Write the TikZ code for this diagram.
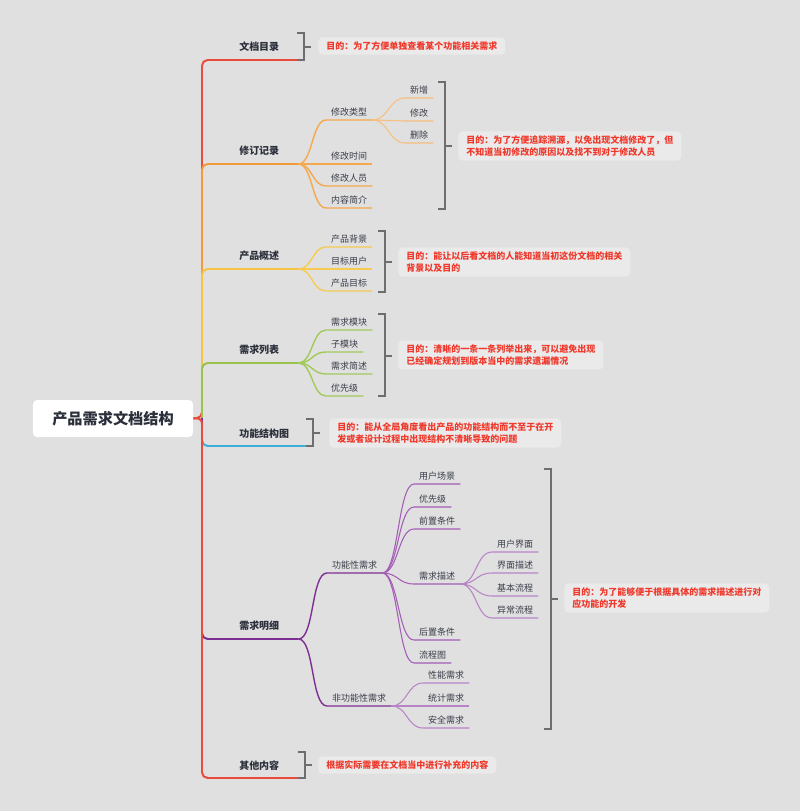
\documentclass[tikz,border=0pt]{standalone}
\usepackage{fontspec}
\setmainfont{Noto Sans CJK SC}
\usepackage{tikz}
\usetikzlibrary{positioning}
\definecolor{bg}{HTML}{E0E0E0}
\definecolor{notebg}{HTML}{EAEAEA}
\definecolor{ink}{HTML}{2B2F3A}
\definecolor{ink2}{HTML}{3A3D4A}
\definecolor{notered}{HTML}{F0382B}
\definecolor{bracegray}{HTML}{6E6E6E}
\definecolor{cred}{HTML}{E94B3C}
\definecolor{corange}{HTML}{F29B38}
\definecolor{corange2}{HTML}{F5A84E}
\definecolor{corange3}{HTML}{F7BE7E}
\definecolor{cyellow}{HTML}{F6C343}
\definecolor{cyellow2}{HTML}{F7CB52}
\definecolor{cgreen}{HTML}{98C24B}
\definecolor{cgreen2}{HTML}{A2C95C}
\definecolor{cblue}{HTML}{3BAFDA}
\definecolor{cpurple}{HTML}{7E2F94}
\definecolor{cpurple2}{HTML}{A35DB5}
\definecolor{cpurple3}{HTML}{B884C6}
\tikzset{
  root/.style={fill=white,rounded corners=3pt,minimum width=4cm,minimum height=0.925cm,
    font=\fontsize{10.8}{12}\selectfont\bfseries,text=ink},
  branch/.style={anchor=south west,inner xsep=13.5pt,inner ysep=5.5pt,
    font=\fontsize{7.1}{8}\selectfont\bfseries,text=ink},
  topic/.style={anchor=south west,inner xsep=3.5pt,inner ysep=2.6pt,
    font=\fontsize{6.4}{8}\selectfont,text=ink2},
  note/.style={anchor=west,fill=notebg,rounded corners=3pt,inner xsep=5.7pt,inner ysep=3pt,
    align=left,text=notered,font=\fontsize{6.4}{8.5}\selectfont\bfseries},
  brace/.style={draw=bracegray,line width=0.9pt},
  trunk/.style={line width=1.4pt,rounded corners=4pt},
  twig/.style={line width=1pt},
  leafline/.style={line width=0.75pt},
}
\begin{document}
\begin{tikzpicture}[x=0.025cm,y=-0.025cm]
      \fill[bg] (0,0) rectangle (800,811);
      \useasboundingbox (0,0) rectangle (800,811);

      \node[root] (root) at (113,418.5) {产品需求文档结构};
      \coordinate (hub) at (202,418);

      \node[branch] (mulu) at (220,60) {文档目录};
      \node[branch] (xiuding) at (220,164) {修订记录};
      \node[branch] (gaishu) at (220,269) {产品概述};
      \node[branch] (liebiao) at (220,363) {需求列表};
      \node[branch] (jiegou) at (220,446) {功能结构图};
      \node[branch] (mingxi) at (220,639) {需求明细};
      \node[branch] (qita) at (220,778) {其他内容};

      \draw[trunk,cred] (root.east) -- (hub) |- (mulu.south west) -- (mulu.south east);
      \draw[trunk,corange] (hub) |- (xiuding.south west) -- (xiuding.south east);
      \draw[trunk,cyellow] (hub) |- (gaishu.south west) -- (gaishu.south east);
      \draw[trunk,cgreen] (hub) |- (liebiao.south west) -- (liebiao.south east);
      \draw[trunk,cblue] (hub) |- (jiegou.south west) -- (jiegou.south east);
      \draw[trunk,cpurple] (hub) |- (mingxi.south west) -- (mingxi.south east);
      \draw[trunk,cred] (root.east) -- (hub) |- (qita.south west) -- (qita.south east);

      % 修订记录
      \node[topic] (leixing) at (326,120) {修改类型};
      \node[topic] (shijian) at (326,164) {修改时间};
      \node[topic] (renyuan) at (326,186) {修改人员};
      \node[topic] (jianjie) at (326,208) {内容简介};
      \node[topic] (xinzeng) at (405,98) {新增};
      \node[topic] (xiugai) at (405,121) {修改};
      \node[topic] (shanchu) at (405,143) {删除};
      \foreach \c in {leixing,shijian,renyuan,jianjie}
        \draw[twig,corange2] (xiuding.south east) .. controls +(14,0) and +(-14,0) .. (\c.south west) -- (\c.south east);
      \foreach \c in {xinzeng,xiugai,shanchu}
        \draw[leafline,corange3] (leixing.south east) .. controls +(16,0) and +(-16,0) .. (\c.south west) -- (\c.south east);

      % 产品概述
      \node[topic] (beijing) at (326,247) {产品背景};
      \node[topic] (yonghu) at (326,269) {目标用户};
      \node[topic] (mubiao) at (326,291) {产品目标};
      \foreach \c in {beijing,yonghu,mubiao}
        \draw[twig,cyellow2] (gaishu.south east) .. controls +(14,0) and +(-14,0) .. (\c.south west) -- (\c.south east);

      % 需求列表
      \node[topic] (mokuai) at (326,330) {需求模块};
      \node[topic] (zimokuai) at (326,352) {子模块};
      \node[topic] (jianshu) at (326,374) {需求简述};
      \node[topic] (youxian) at (326,396) {优先级};
      \foreach \c in {mokuai,zimokuai,jianshu,youxian}
        \draw[twig,cgreen2] (liebiao.south east) .. controls +(14,0) and +(-14,0) .. (\c.south west) -- (\c.south east);

      % 需求明细
      \node[topic] (gongneng) at (327,573) {功能性需求};
      \node[topic] (feigongneng) at (327,706) {非功能性需求};
      \node[topic] (changjing) at (414,484) {用户场景};
      \node[topic] (youxianji) at (414,507) {优先级};
      \node[topic] (qianzhi) at (414,529) {前置条件};
      \node[topic] (miaoshu) at (414,584) {需求描述};
      \node[topic] (houzhi) at (414,640) {后置条件};
      \node[topic] (liucheng) at (414,663) {流程图};
      \node[topic] (jiemian) at (492,552) {用户界面};
      \node[topic] (jmms) at (492,573) {界面描述};
      \node[topic] (jiben) at (492,596) {基本流程};
      \node[topic] (yichang) at (492,618) {异常流程};
      \node[topic] (xingneng) at (423,683) {性能需求};
      \node[topic] (tongji) at (423,706) {统计需求};
      \node[topic] (anquan) at (423,728) {安全需求};
      \foreach \c in {gongneng,feigongneng}
        \draw[twig,cpurple] (mingxi.south east) .. controls +(16,0) and +(-16,0) .. (\c.south west) -- (\c.south east);
      \foreach \c in {changjing,youxianji,qianzhi,miaoshu,houzhi,liucheng}
        \draw[leafline,cpurple2] (gongneng.south east) .. controls +(16,0) and +(-16,0) .. (\c.south west) -- (\c.south east);
      \foreach \c in {jiemian,jmms,jiben,yichang}
        \draw[leafline,cpurple3] (miaoshu.south east) .. controls +(16,0) and +(-16,0) .. (\c.south west) -- (\c.south east);
      \foreach \c in {xingneng,tongji,anquan}
        \draw[leafline,cpurple3] (feigongneng.south east) .. controls +(16,0) and +(-16,0) .. (\c.south west) -- (\c.south east);

      % brackets and notes
      \draw[brace] (297,33) -| (304,60) -- (297,60);
      \draw[brace] (304,47) -- (311,47);
      \node[note] (n1) at (318,46) {目的：为了方便单独查看某个功能相关需求};

      \draw[brace] (438,82) -| (445,209) -- (438,209);
      \draw[brace] (445,146) -- (452,146);
      \node[note] (n2) at (458,146) {目的：为了方便追踪溯源，以免出现文档修改了，但\\不知道当初修改的原因以及找不到对于修改人员};

      \draw[brace] (378,231) -| (385,292) -- (378,292);
      \draw[brace] (385,262) -- (392,262);
      \node[note] (n3) at (398,262) {目的：能让以后看文档的人能知道当初这份文档的相关\\背景以及目的};

      \draw[brace] (378,314) -| (385,396) -- (378,396);
      \draw[brace] (385,356) -- (392,356);
      \node[note] (n4) at (398,355) {目的：清晰的一条一条列举出来，可以避免出现\\已经确定规划到版本当中的需求遗漏情况};

      \draw[brace] (306,419) -| (313,446) -- (306,446);
      \draw[brace] (313,433) -- (320,433);
      \node[note] (n5) at (329,433) {目的：能从全局角度看出产品的功能结构而不至于在开\\发或者设计过程中出现结构不清晰导致的问题};

      \draw[brace] (544,469) -| (551,729) -- (544,729);
      \draw[brace] (551,599) -- (558,599);
      \node[note] (n6) at (564,598) {目的：为了能够便于根据具体的需求描述进行对\\应功能的开发};

      \draw[brace] (298,752) -| (305,778) -- (298,778);
      \draw[brace] (305,765) -- (312,765);
      \node[note] (n7) at (318,765) {根据实际需要在文档当中进行补充的内容};
\end{tikzpicture}
\end{document}
